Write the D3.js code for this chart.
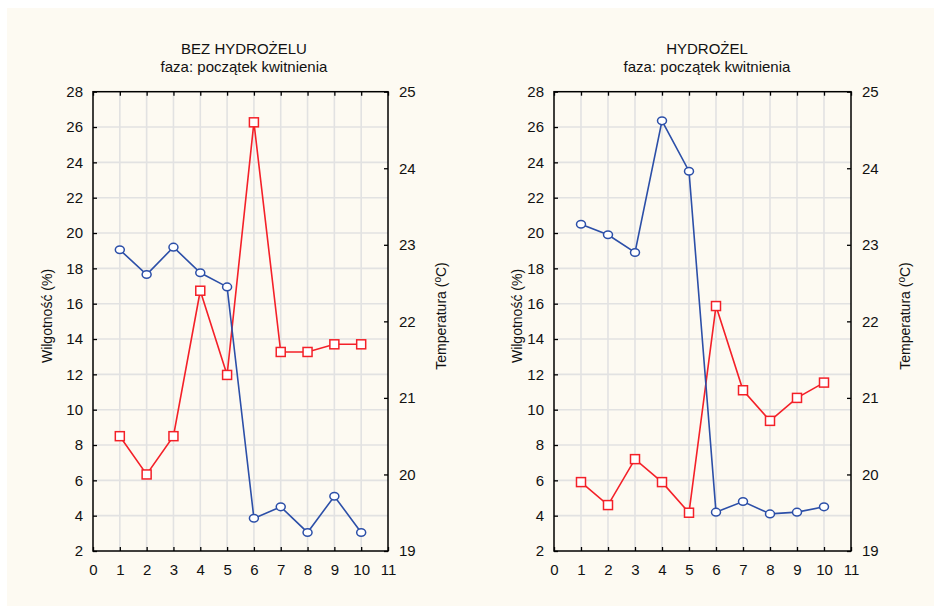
<!DOCTYPE html>
<html><head><meta charset="utf-8">
<script src="https://cdn.jsdelivr.net/npm/d3@7"></script>
<style>body{margin:0;background:#fff}svg{display:block}text{font-family:Arial,"Liberation Sans",sans-serif;fill:#111}</style>
</head><body><svg id="c" width="934" height="606"></svg>
<script>
const xVals = [1,2,3,4,5,6,7,8,9,10];
const xTicks = [0,1,2,3,4,5,6,7,8,9,10,11];
const yLeftTicks = [2,4,6,8,10,12,14,16,18,20,22,24,26,28];
const yRightTicks = [19,20,21,22,23,24,25];
const titles = ["BEZ HYDROŻELU", "HYDROŻEL"];
const subtitle = "faza: początek kwitnienia";
const leftLabel = "Wilgotność (%)";
const rightLabel = "Temperatura (";
// Panel 1: BEZ HYDROŻELU
const humidityNo = [19.05, 17.65, 19.2, 17.75, 16.95, 3.85, 4.5, 3.05, 5.1, 3.05];
const tempNo = [20.5, 20.0, 20.5, 22.4, 21.3, 24.6, 21.6, 21.6, 21.7, 21.7];
// Panel 2: HYDROŻEL
const humidityHy = [20.5, 19.9, 18.9, 26.35, 23.5, 4.2, 4.8, 4.1, 4.2, 4.5];
const tempHy = [19.9, 19.6, 20.2, 19.9, 19.5, 22.2, 21.1, 20.7, 21.0, 21.2];

const svg = d3.select("#c");
svg.append("rect").attr("x",7).attr("y",8).attr("width",927).attr("height",598).attr("fill","#fdfaf2");

const panels = [
  {x0:93, x1:388, title:titles[0], hum:humidityNo, temp:tempNo, tcx:244, llx:47, rlx:441},
  {x0:554, x1:851, title:titles[1], hum:humidityHy, temp:tempHy, tcx:707, llx:517, rlx:905}
];
const y0 = 91.7, y1 = 551;
const BLUE = "#2c4fa8", RED = "#f42028";

panels.forEach(p => {
  const g = svg.append("g");
  const x = d3.scaleLinear().domain([0,11]).range([p.x0,p.x1]);
  const yl = d3.scaleLinear().domain([2,28]).range([y1,y0]);
  const yr = d3.scaleLinear().domain([19,25]).range([y1,y0]);
  // grid
  g.append("g").selectAll("line").data(xVals).join("line")
    .attr("x1",d=>x(d)).attr("x2",d=>x(d)).attr("y1",y0).attr("y2",y1)
    .attr("stroke","#e2e2e2").attr("stroke-width",1.6);
  g.append("g").selectAll("line").data(yLeftTicks.slice(1,-1)).join("line")
    .attr("y1",d=>yl(d)).attr("y2",d=>yl(d)).attr("x1",p.x0).attr("x2",p.x1)
    .attr("stroke","#e2e2e2").attr("stroke-width",1.6);
  // axes (ticks inward)
  const ax = (axis, tx, ty) => {
    const a = g.append("g").attr("transform",`translate(${tx},${ty})`).call(axis);
    a.select(".domain").remove();
    a.selectAll(".tick line").attr("stroke","#000").attr("stroke-width",1.3);
    a.selectAll("text").style("font-size","15px").attr("fill","#111");
    return a;
  };
  ax(d3.axisBottom(x).tickValues(xTicks).tickSize(-4).tickPadding(10).tickFormat(d3.format("d")), 0, y1)
    .selectAll("text").attr("dy","0.9em");
  ax(d3.axisTop(x).tickValues(xTicks).tickSize(-4).tickFormat(""), 0, y0);
  ax(d3.axisLeft(yl).tickValues(yLeftTicks).tickSize(-4).tickPadding(10).tickFormat(d3.format("d")), p.x0, 0);
  ax(d3.axisRight(yr).tickValues(yRightTicks).tickSize(-4).tickPadding(11).tickFormat(d3.format("d")), p.x1, 0);
  // frame
  g.append("rect").attr("x",p.x0).attr("y",y0).attr("width",p.x1-p.x0).attr("height",y1-y0)
    .attr("fill","none").attr("stroke","#000").attr("stroke-width",1.5);
  // titles
  g.append("text").attr("x",p.tcx).attr("y",54).attr("text-anchor","middle").style("font-size","15px").text(p.title);
  g.append("text").attr("x",p.tcx).attr("y",72).attr("text-anchor","middle").style("font-size","15px").text(subtitle);
  // axis labels
  g.append("text").attr("transform",`translate(${p.llx+5},316) rotate(-90)`).attr("text-anchor","middle")
    .style("font-size","14px").text(leftLabel);
  const rt = g.append("text").attr("transform",`translate(${p.rlx+5},316) rotate(-90)`).attr("text-anchor","middle")
    .style("font-size","14px");
  rt.append("tspan").text(rightLabel);
  rt.append("tspan").attr("dy",-5).style("font-size","10px").text("o");
  rt.append("tspan").attr("dy",5).text("C)");
  // lines
  const lineL = d3.line().x((d,i)=>x(xVals[i])).y(d=>yl(d));
  const lineR = d3.line().x((d,i)=>x(xVals[i])).y(d=>yr(d));
  g.append("path").datum(p.temp).attr("d",lineR).attr("fill","none").attr("stroke",RED).attr("stroke-width",1.6);
  g.append("path").datum(p.hum).attr("d",lineL).attr("fill","none").attr("stroke",BLUE).attr("stroke-width",1.6);
  g.append("g").selectAll("rect").data(p.temp).join("rect")
    .attr("x",(d,i)=>x(xVals[i])-4.5).attr("y",d=>yr(d)-4.5).attr("width",9).attr("height",9)
    .attr("fill","#fff").attr("stroke",RED).attr("stroke-width",1.5);
  g.append("g").selectAll("ellipse").data(p.hum).join("ellipse")
    .attr("cx",(d,i)=>x(xVals[i])).attr("cy",d=>yl(d)).attr("rx",4.5).attr("ry",3.8)
    .attr("fill","#fff").attr("stroke",BLUE).attr("stroke-width",1.5);
});
</script></body></html>
